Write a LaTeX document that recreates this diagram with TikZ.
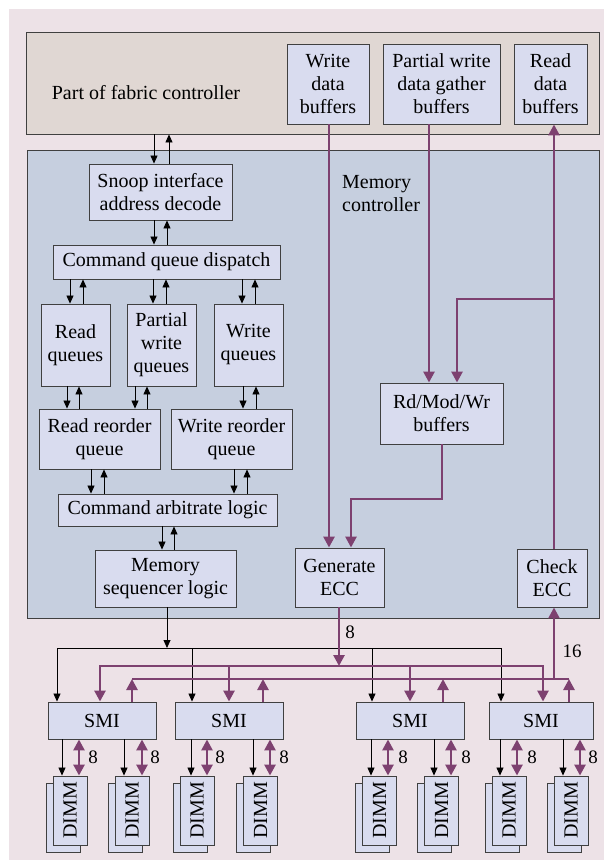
\documentclass[tikz,border=0pt]{standalone}
\usepackage{fontspec}
\setmainfont{Liberation Serif}
\newfontfamily\timesfam{Liberation Serif}
\usetikzlibrary{arrows.meta}
\definecolor{bgpink}{HTML}{EDE2E7}
\definecolor{fabfill}{HTML}{E0D7D3}
\definecolor{mcfill}{HTML}{C6CFDF}
\definecolor{boxfill}{HTML}{D9DCEF}
\definecolor{edgecol}{HTML}{404040}
\definecolor{purp}{HTML}{7D4170}
\newcommand\pairarrows[4]{%
  \draw[blk] (#3,0 |- #1.south) -- (#3,0 |- #2.north);
  \draw[blk] (#4,0 |- #2.north) -- (#4,0 |- #1.south);}
\newcommand\dimmcard[2]{%
  \node[box, minimum width=34pt, minimum height=69pt] (#1b) at (#2-7,817.5) {};
  \node[box, minimum width=34pt, minimum height=69pt] (#1) at (#2,810.5) {};
  \node[rotate=90] at (#1.center) {DIMM};}
\newcommand\smidimm[5]{%
  \draw[blk] (#3,0 |- #1.south) -- (#3,0 |- #2.north);
  \draw[purB] (#4,0 |- #1.south) -- (#4,0 |- #2.north);
  \node[lbl] at (#5,757) {8};}
\begin{document}
\begin{tikzpicture}[x=1pt,y=-1pt,
  every node/.style={font=\timesfam\fontsize{20}{23}\selectfont, inner sep=0pt},
  box/.style={draw=edgecol, line width=0.9pt, fill=boxfill, align=center},
  blk/.style={draw=black, line width=0.8pt, -{Triangle[length=8pt,width=7pt]}},
  blkboth/.style={draw=black, line width=0.8pt, {Triangle[length=8pt,width=7pt]}-{Triangle[length=8pt,width=7pt]}},
  pur/.style={draw=purp, line width=2.6pt},
  purA/.style={pur, -{Triangle[length=11pt,width=11pt]}},
  purB/.style={pur, {Triangle[length=11pt,width=11pt]}-{Triangle[length=11pt,width=11pt]}},
  lbl/.style={font=\timesfam\fontsize{19}{22}\selectfont}
]
\useasboundingbox (0,0) rectangle (604,860);
\fill[bgpink] (9,9) rectangle (604,860);

% fabric controller
\node[draw=edgecol, line width=0.9pt, fill=fabfill, minimum width=573pt, minimum height=102pt] (fab) at (312.5,83) {};
\node (fabtxt) at (146,93) {Part of fabric controller};
\node[box, minimum width=82pt, minimum height=80pt] (wdb) at (328,84) {Write\\data\\buffers};
\node[box, minimum width=117pt, minimum height=80pt] (pwb) at (441.5,84) {Partial write\\data gather\\buffers};
\node[box, minimum width=73pt, minimum height=80pt] (rdb) at (550.5,84) {Read\\data\\buffers};

% memory controller
\node[draw=edgecol, line width=0.9pt, fill=mcfill, minimum width=572pt, minimum height=468pt] (mc) at (313,384) {};
\node[anchor=west, align=left] (mctxt) at (342,194) {Memory\\controller};

\node[box, minimum width=143pt, minimum height=56pt] (snoop) at (160.5,192) {Snoop interface\\address decode};
\node[box, minimum width=227pt, minimum height=34pt] (cqd) at (166.5,262) {Command queue dispatch};
\node[box, minimum width=69pt, minimum height=82pt] (rq) at (75.5,345) {Read\\queues};
\node[box, minimum width=69pt, minimum height=82pt] (pwq) at (161.5,345) {Partial\\write\\queues};
\node[box, minimum width=69pt, minimum height=82pt] (wq) at (248.5,345) {Write\\queues};
\node[box, minimum width=121pt, minimum height=60pt] (rrq) at (99.5,439) {Read reorder\\queue};
\node[box, minimum width=121pt, minimum height=60pt] (wrq) at (231.5,439) {Write reorder\\queue};
\node[box, minimum width=219pt, minimum height=32pt] (cal) at (167.5,510) {Command arbitrate logic};
\node[box, minimum width=141pt, minimum height=57pt] (msl) at (165.5,578.5) {Memory\\sequencer logic};
\node[box, minimum width=123pt, minimum height=61pt] (rmw) at (441.5,413.5) {Rd/Mod/Wr\\buffers};
\node[box, minimum width=89pt, minimum height=59pt] (gecc) at (339.5,577.5) {Generate\\ECC};
\node[box, minimum width=70pt, minimum height=58pt] (cecc) at (552,578) {Check\\ECC};

% control arrows
\pairarrows{fab}{snoop}{154}{169}
\pairarrows{snoop}{cqd}{154}{167}
\pairarrows{cqd}{rq}{70}{83}
\pairarrows{cqd}{pwq}{153}{166}
\pairarrows{cqd}{wq}{242}{255}
\pairarrows{rq}{rrq}{67}{79}
\pairarrows{pwq}{rrq}{135}{147}
\pairarrows{wq}{wrq}{243}{256}
\pairarrows{rrq}{cal}{91}{104}
\pairarrows{wrq}{cal}{234}{247}
\pairarrows{cal}{msl}{162}{174}

% data paths
\draw[purA] (329,0 |- wdb.south) -- (329,0 |- gecc.north);
\draw[purA] (429,0 |- pwb.south) -- (429,0 |- rmw.north);
\draw[purA] (554,0 |- cecc.north) -- (554,0 |- rdb.south);
\coordinate (br) at (554,299);
\draw[purA] (br) -| (457,0 |- rmw.north);
\draw[purA] (442,0 |- rmw.south) -- (442,499) -| (351,0 |- gecc.north);

% SMIs
\node[box, minimum width=108pt, minimum height=37pt] (smi1) at (102,720.5) {SMI};
\node[box, minimum width=108pt, minimum height=37pt] (smi2) at (229,720.5) {SMI};
\node[box, minimum width=108pt, minimum height=37pt] (smi3) at (410,720.5) {SMI};
\node[box, minimum width=104pt, minimum height=37pt] (smi4) at (541,720.5) {SMI};

% black command bus
\draw[blk] (167,0 |- msl.south) -- (167,648);
\draw[blkboth] (57,0 |- smi1.north) -- (57,648) -- (501,648) -- (501,0 |- smi4.north);
\draw[blk] (192,648) -- (192,0 |- smi2.north);
\draw[blk] (372,648) -- (372,0 |- smi3.north);

% purple write bus
\draw[purA] (339,0 |- gecc.south) -- (339,666);
\node[lbl] (l8) at (350,632) {8};
\draw[purB] (100,0 |- smi1.north) -- (100,666) -- (543,666) -- (543,0 |- smi4.north);
\draw[purA] (229,666) -- (229,0 |- smi2.north);
\draw[purA] (410,666) -- (410,0 |- smi3.north);

% purple read bus
\draw[pur] (132,679) -- (569,679);
\draw[purA] (132,0 |- smi1.north) -- (132,679);
\draw[purA] (263,0 |- smi2.north) -- (263,679);
\draw[purA] (443,0 |- smi3.north) -- (443,679);
\draw[purA] (569,0 |- smi4.north) -- (569,679);
\draw[purA] (554,679) -- (554,0 |- cecc.south);
\node[lbl] (l16) at (572,651) {16};

% DIMMs
\dimmcard{d1}{70}
\dimmcard{d2}{132}
\dimmcard{d3}{197}
\dimmcard{d4}{260.5}
\dimmcard{d5}{379.5}
\dimmcard{d6}{441.5}
\dimmcard{d7}{509}
\dimmcard{d8}{571}

\smidimm{smi1}{d1}{62}{79}{93}
\smidimm{smi1}{d2}{124}{142}{155}
\smidimm{smi2}{d3}{191}{207}{220}
\smidimm{smi2}{d4}{253}{270}{284}
\smidimm{smi3}{d5}{371}{388}{403}
\smidimm{smi3}{d6}{434}{451}{466}
\smidimm{smi4}{d7}{500}{517}{532}
\smidimm{smi4}{d8}{563}{580}{593}
\end{tikzpicture}
\end{document}
